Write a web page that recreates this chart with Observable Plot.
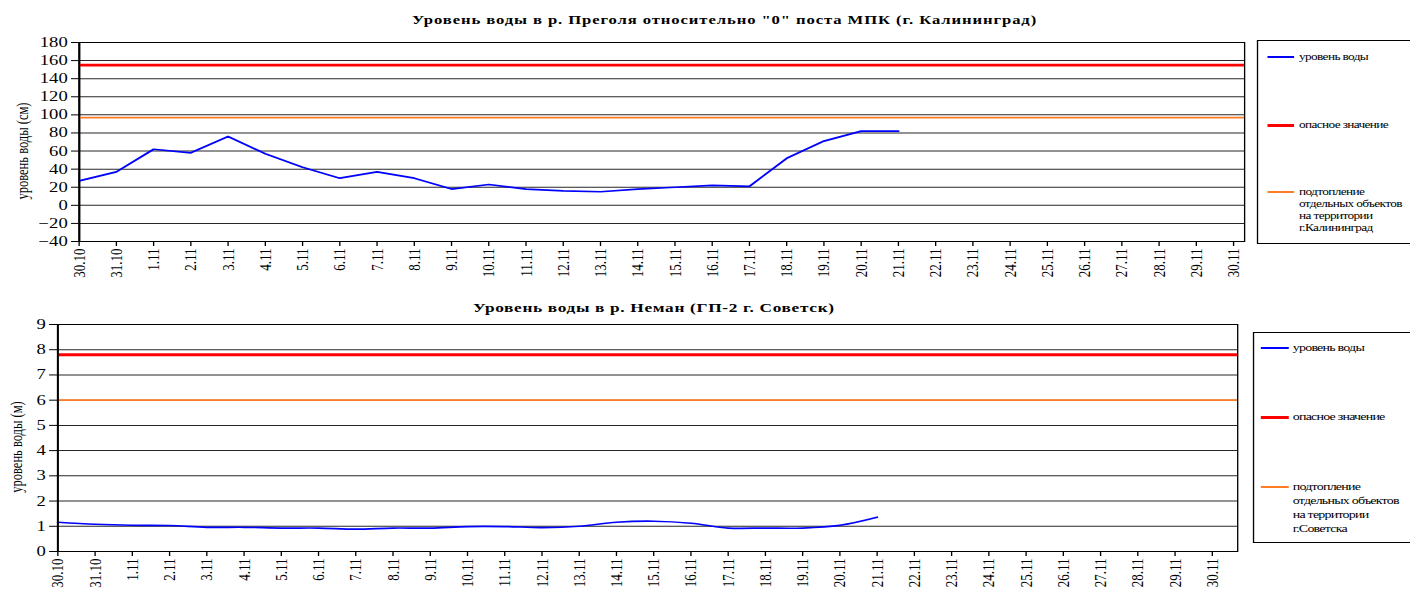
<!DOCTYPE html>
<html>
<head>
<meta charset="utf-8">
<script src="https://cdn.jsdelivr.net/npm/d3@7"></script>
<script src="https://cdn.jsdelivr.net/npm/@observablehq/plot@0.6"></script>
<style>
  html, body { margin: 0; padding: 0; background: #fff; }
  body { width: 1410px; height: 597px; overflow: hidden; position: relative; }
  #stage { position: absolute; left: 0; top: 0; width: 1060px; height: 597px; transform: scaleX(1.33); transform-origin: 0 0; font-family: "Liberation Serif", "Times New Roman", Times, serif; color: #000; }
  .abs { position: absolute; white-space: nowrap; line-height: 1; }
  .title { font-weight: bold; }
  .ylab { font-size: 12.5px; transform: translate(-50%, -50%) rotate(-90deg); }
  .legbox { position: absolute; border: 1px solid #000; box-sizing: border-box; background: #fff; }
  .legtxt { position: absolute; white-space: nowrap; }
  .legline { position: absolute; }
  .plotwrap { position: absolute; left: 0; }
</style>
</head>
<body>
<div id="stage"></div>
<script>
// ---------------- data ----------------
const dates = ["30.10","31.10","1.11","2.11","3.11","4.11","5.11","6.11","7.11","8.11","9.11","10.11","11.11","12.11","13.11","14.11","15.11","16.11","17.11","18.11","19.11","20.11","21.11","22.11","23.11","24.11","25.11","26.11","27.11","28.11","29.11","30.11"];

const pregolyaLevel = [27, 37, 62, 58, 76, 57, 42, 30, 37, 30, 18, 23, 18, 16, 15, 18, 20, 22, 21, 52, 71, 82, 82];
const pregolyaDanger = 155;
const pregolyaFlood = 97;
const pregolyaTicks = [-40, -20, 0, 20, 40, 60, 80, 100, 120, 140, 160, 180];

const nemanLevel = [1.16, 1.08, 1.04, 1.03, 0.96, 0.96, 0.93, 0.93, 0.89, 0.93, 0.93, 0.99, 0.99, 0.95, 1.00, 1.16, 1.20, 1.12, 0.93, 0.93, 0.93, 1.04, 1.36];
const nemanDanger = 7.8;
const nemanFlood = 6.0;
const nemanTicks = [0, 1, 2, 3, 4, 5, 6, 7, 8, 9];

const titleTop = "Уровень воды в р. Преголя относительно \"0\" поста МПК (г. Калининград)";
const titleBottom = "Уровень воды в р. Неман (ГП-2 г. Советск)";
const yLabelTop = "уровень воды (см)";
const yLabelBottom = "уровень воды (м)";
const legendLevel = "уровень воды";
const legendDanger = "опасное значение";
const legendFloodTop = ["подтопление", "отдельных объектов", "на территории", "г.Калининград"];
const legendFloodBottom = ["подтопление", "отдельных объектов", "на территории", "г.Советска"];

// ---------------- colours ----------------
const BLUE = "#0000ff", RED = "#ff0000", ORANGE = "#ff7b24";
const SX = 1.33;

const stage = document.getElementById("stage");

function chart({values, danger, flood, ticks, marginLeft, marginRight, marginTop, marginBottom, height, curve, dangerWidth}) {
  const rows = values.map((v, i) => ({date: dates[i], level: v}));
  return Plot.plot({
    width: 1060, height, marginLeft, marginRight, marginTop, marginBottom,
    style: {fontFamily: "'Liberation Serif', 'Times New Roman', Times, serif", fontSize: "13px", color: "#000", background: "transparent", overflow: "visible"},
    x: {type: "point", domain: dates, padding: 0, align: 0},
    y: {domain: [ticks[0], ticks[ticks.length - 1]]},
    marks: [
      Plot.gridY(ticks, {stroke: "#000", strokeOpacity: 0.85}),
      Plot.axisY(ticks, {tickSize: 6, tickPadding: 3, fontSize: 14, label: null}),
      Plot.axisX(dates, {tickRotate: -90, tickSize: 5, tickPadding: 2, fontSize: 13, label: null}),
      Plot.frame({stroke: "#000", strokeWidth: 1}),
      Plot.ruleY([flood], {stroke: ORANGE, strokeWidth: 1.7}),
      Plot.ruleY([danger], {stroke: RED, strokeWidth: dangerWidth}),
      Plot.line(rows, {x: "date", y: "level", stroke: BLUE, strokeWidth: 1.7, curve}),
      Plot.ruleX([dates[0]], {stroke: "#000", strokeWidth: 1.5})
    ]
  });
}

function place(el, left, top) {
  const w = document.createElement("div");
  w.className = "plotwrap";
  w.style.left = left + "px";
  w.style.top = top + "px";
  w.appendChild(el);
  stage.appendChild(w);
}

place(chart({values: pregolyaLevel, danger: pregolyaDanger, flood: pregolyaFlood, ticks: pregolyaTicks,
  marginLeft: 59.4, marginRight: 124.7, marginTop: 42, marginBottom: 54, height: 295, curve: "linear", dangerWidth: 2.6}), 0, 0);

place(chart({values: nemanLevel, danger: nemanDanger, flood: nemanFlood, ticks: nemanTicks,
  marginLeft: 42.9, marginRight: 129.9, marginTop: 29, marginBottom: 46, height: 302, curve: "catmull-rom", dangerWidth: 3}), 0, 295);

function addText(text, cls, left, top, size) {
  const d = document.createElement("div");
  d.className = "abs " + cls;
  d.textContent = text;
  d.style.left = left + "px";
  d.style.top = top + "px";
  if (size) d.style.fontSize = size + "px";
  stage.appendChild(d);
  return d;
}
function fitWidth(el, target) {
  const n = el.textContent.length;
  const w = el.getBoundingClientRect().width / SX;
  el.style.letterSpacing = ((target - w) / n) + "px";
}

fitWidth(addText(titleTop, "title", 309.8, 13.5, 12.5), 470);
fitWidth(addText(titleBottom, "title", 355.6, 301, 13), 272);

addText(yLabelTop, "ylab", 16.5, 151);
addText(yLabelBottom, "ylab", 12.8, 447);

function legend({left, top, height, lineLeft, lineWidth, textLeft, centers, lineHeight, fontSize, floodLines, dangerTarget}) {
  const box = document.createElement("div");
  box.className = "legbox";
  Object.assign(box.style, {left: left + "px", top: top + "px", width: "140px", height: height + "px"});
  stage.appendChild(box);
  const items = [
    {color: BLUE, w: 2, lines: [legendLevel]},
    {color: RED, w: 3, lines: [legendDanger]},
    {color: ORANGE, w: 2, lines: floodLines}
  ];
  const texts = [];
  items.forEach((it, i) => {
    const ln = document.createElement("div");
    ln.className = "legline";
    Object.assign(ln.style, {left: lineLeft + "px", top: (centers[i] - it.w / 2) + "px", width: lineWidth + "px", height: it.w + "px", background: it.color});
    stage.appendChild(ln);
    const t = document.createElement("div");
    t.className = "legtxt";
    t.innerHTML = it.lines.map(s => s.replace(/&/g, "&amp;").replace(/</g, "&lt;")).join("<br>");
    Object.assign(t.style, {left: textLeft + "px", top: (centers[i] - lineHeight / 2) + "px", fontSize: fontSize + "px", lineHeight: lineHeight + "px"});
    stage.appendChild(t);
    texts.push(t);
  });
  // letter spacing so that "опасное значение" matches the reference width
  const dw = texts[1].getBoundingClientRect().width / SX;
  let ls = (dangerTarget - dw) / legendDanger.length;
  texts.forEach(t => t.style.letterSpacing = ls + "px");
  // keep the longest line inside the page
  const maxRight = 1406 / SX;
  const fw = texts[2].getBoundingClientRect().width / SX;
  if (textLeft + fw > maxRight) {
    const longest = Math.max(...floodLines.map(s => s.length));
    const reduce = (textLeft + fw - maxRight) / longest;
    texts[2].style.letterSpacing = (ls - reduce) + "px";
  }
}

legend({left: 945, top: 40, height: 204, lineLeft: 953.4, lineWidth: 20, textLeft: 976.7, centers: [57, 125, 192], lineHeight: 12, fontSize: 10, floodLines: legendFloodTop, dangerTarget: 67});
legend({left: 942, top: 332, height: 211, lineLeft: 948, lineWidth: 21, textLeft: 972, centers: [348, 417, 487], lineHeight: 14, fontSize: 10.5, floodLines: legendFloodBottom, dangerTarget: 69});
</script>
</body>
</html>
